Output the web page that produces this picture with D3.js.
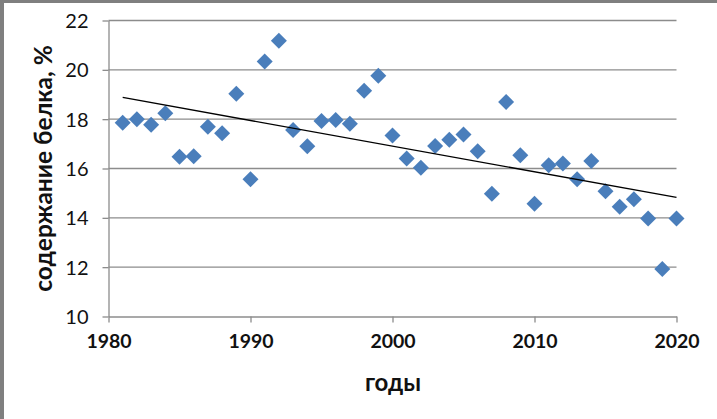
<!DOCTYPE html>
<html><head><meta charset="utf-8">
<script src="https://cdn.jsdelivr.net/npm/d3@7"></script>
<style>body{margin:0;background:#fff}svg{display:block}</style>
</head><body><svg id="c" width="717" height="419"></svg>
<script>
const years = [1981,1982,1983,1984,1985,1986,1987,1988,1989,1990,1991,1992,1993,1994,1995,1996,1997,1998,1999,2000,2001,2002,2003,2004,2005,2006,2007,2008,2009,2010,2011,2012,2013,2014,2015,2016,2017,2018,2019,2020];
const protein = [17.85,18.0,17.77,18.24,16.48,16.5,17.69,17.43,19.03,15.56,20.34,21.18,17.56,16.9,17.93,17.97,17.81,19.15,19.76,17.34,16.41,16.03,16.91,17.17,17.38,16.7,14.98,18.7,16.54,14.57,16.13,16.2,15.56,16.3,15.08,14.45,14.75,13.97,11.93,13.97];
const xTicks = [1980,1990,2000,2010,2020];
const yTicks = [10,12,14,16,18,20,22];
const xTitle = "годы";
const yTitle = "содержание белка, %";

const svg = d3.select("#c");
const x = d3.scaleLinear().domain([1980,2020]).range([108.5,676.5]);
const y = d3.scaleLinear().domain([10,22]).range([316.5,20.5]);
const grid = "#8c8c8c";
const font = "Lato, 'Open Sans', sans-serif";

// frame
svg.append("rect").attr("x",0).attr("y",0).attr("width",717).attr("height",3).attr("fill","#7f7f7f");
svg.append("rect").attr("x",0).attr("y",0).attr("width",4).attr("height",419).attr("fill","#7f7f7f");

// gridlines
svg.append("g").selectAll("line").data(yTicks.filter(d=>d>10)).join("line")
  .attr("x1",x(1980)).attr("x2",x(2020)).attr("y1",d=>y(d)).attr("y2",d=>y(d))
  .attr("stroke",grid).attr("stroke-width",1.3);

// y axis
const ya = svg.append("g").attr("transform",`translate(${x(1980)},0)`)
  .call(d3.axisLeft(y).tickValues(yTicks).tickSize(6).tickPadding(14).tickSizeOuter(0));
ya.select(".domain").attr("stroke",grid).attr("stroke-width",1.3);
ya.selectAll(".tick line").attr("stroke",grid).attr("stroke-width",1.3);
ya.selectAll("text").attr("font-family",font).attr("font-size",20).attr("fill","#111").attr("dy","0.35em");

// x axis
const xa = svg.append("g").attr("transform",`translate(0,${y(10)})`)
  .call(d3.axisBottom(x).tickValues(xTicks).tickFormat(d3.format("d")).tickSize(6).tickPadding(12).tickSizeOuter(0));
xa.select(".domain").attr("stroke",grid).attr("stroke-width",1.3);
xa.selectAll(".tick line").attr("stroke",grid).attr("stroke-width",1.3);
xa.selectAll("text").attr("font-family",font).attr("font-weight","bold").attr("font-size",19.5).attr("fill","#111");

// trendline (least squares)
const n = years.length, mx = d3.mean(years), my = d3.mean(protein);
let sxy=0, sxx=0; years.forEach((v,i)=>{sxy+=(v-mx)*(protein[i]-my); sxx+=(v-mx)*(v-mx);});
const b = sxy/sxx, a = my - b*mx;
const x0 = years[0], x1 = years[n-1];

// points
svg.append("g").selectAll("path").data(years).join("path")
  .attr("d", d3.symbol().type(d3.symbolSquare).size(128))
  .attr("transform",(d,i)=>`translate(${x(d)},${y(protein[i])}) rotate(45)`)
  .attr("fill","#4a7ebb");

svg.append("line").attr("x1",x(x0)).attr("y1",y(a+b*x0)).attr("x2",x(x1)).attr("y2",y(a+b*x1))
  .attr("stroke","#000").attr("stroke-width",1.4);

// titles
svg.append("text").attr("x",393).attr("y",391).attr("text-anchor","middle")
  .attr("font-family",font).attr("font-weight","bold").attr("font-size",24).attr("fill","#111").text(xTitle);
svg.append("text").attr("transform",`translate(52,${y(16)}) rotate(-90)`).attr("text-anchor","middle")
  .attr("font-family",font).attr("font-weight","bold").attr("font-size",24.5).attr("fill","#111").text(yTitle);
</script></body></html>
